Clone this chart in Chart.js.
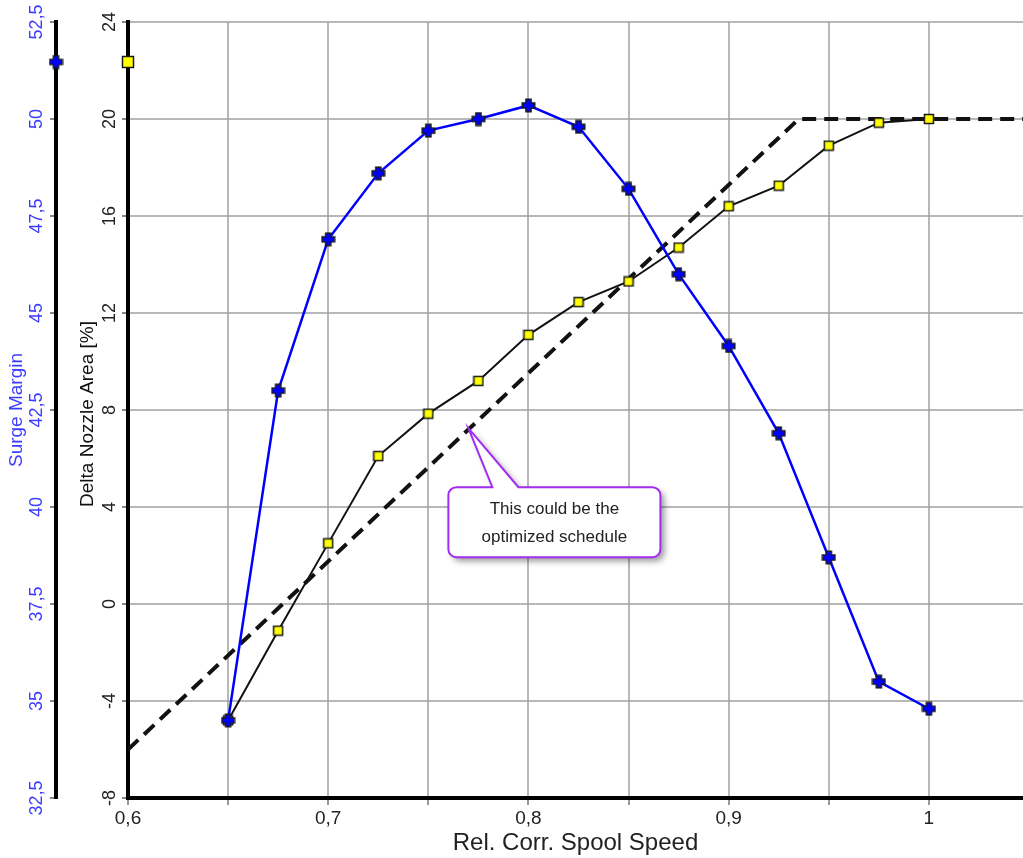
<!DOCTYPE html>
<html>
<head>
<meta charset="UTF-8" />
<title>Surge Margin / Delta Nozzle Area</title>
<script src="https://cdn.jsdelivr.net/npm/chart.js"></script>
<style>
  body { margin: 0; background: #fff; }
  canvas { display: block; }
</style>
</head>
<body>
<canvas id="grafico" width="1023" height="858"></canvas>
<script>
  // data
  const speed = [0.65, 0.675, 0.7, 0.725, 0.75, 0.775, 0.8, 0.825, 0.85, 0.875, 0.9, 0.925, 0.95, 0.975, 1.0];
  const surgeMargin = [34.5, 43.0, 46.9, 48.6, 49.7, 50.0, 50.35, 49.8, 48.2, 46.0, 44.15, 41.9, 38.7, 35.5, 34.8];
  const nozzleArea = [-4.8, -1.1, 2.5, 6.1, 7.85, 9.2, 11.1, 12.45, 13.3, 14.7, 16.4, 17.25, 18.9, 19.85, 20.0];
  const scheduleSpeed = [0.6, 0.935, 1.05];
  const scheduleArea = [-6, 20, 20];

  const xTicks = [0.6, 0.65, 0.7, 0.75, 0.8, 0.85, 0.9, 0.95, 1.0];
  const xTickLabels = ['0,6', '', '0,7', '', '0,8', '', '0,9', '', '1'];
  const areaTicks = [-8, -4, 0, 4, 8, 12, 16, 20, 24];
  const surgeTicks = [32.5, 35, 37.5, 40, 42.5, 45, 47.5, 50, 52.5];

  const calloutAt = { x: 0.77, y: 7.25 };
  const calloutText = ['This could be the', 'optimized schedule'];

  const FONT = '"Liberation Sans", Arial, sans-serif';
  const blueText = 'rgb(60,60,255)';
  const gridColor = 'rgba(160,160,160,0.75)';
  Chart.defaults.font.family = FONT;

  const fmt = v => String(v).replace('.', ',');

  function plusMarker() {
    const c = document.createElement('canvas');
    c.width = 15; c.height = 15;
    const g = c.getContext('2d');
    const a = 2.6, b = 6.3, o = 7.5;
    g.beginPath();
    g.moveTo(o - a, o - b); g.lineTo(o + a, o - b); g.lineTo(o + a, o - a);
    g.lineTo(o + b, o - a); g.lineTo(o + b, o + a); g.lineTo(o + a, o + a);
    g.lineTo(o + a, o + b); g.lineTo(o - a, o + b); g.lineTo(o - a, o + a);
    g.lineTo(o - b, o + a); g.lineTo(o - b, o - a); g.lineTo(o - a, o - a);
    g.closePath();
    g.fillStyle = '#0000ff'; g.fill();
    g.lineWidth = 1.4; g.strokeStyle = '#1a1a1a'; g.stroke();
    return c;
  }

  function squareMarker(size) {
    const c = document.createElement('canvas');
    c.width = size + 3; c.height = size + 3;
    const g = c.getContext('2d');
    g.fillStyle = '#ffff00';
    g.fillRect(1.5, 1.5, size, size);
    g.lineWidth = 1.5; g.strokeStyle = '#1a1a1a';
    g.strokeRect(1.5, 1.5, size, size);
    return c;
  }

  const plus = plusMarker();
  const square = squareMarker(9);
  const bigSquare = squareMarker(11);

  const axisText = {
    id: 'axisText',
    afterDraw(chart) {
      const g = chart.ctx;
      const sx = chart.scales.x, sa = chart.scales.yArea, ss = chart.scales.ySurge;
      g.save();
      g.textAlign = 'center';
      g.textBaseline = 'middle';
      const vert = (txt, x, y, color, size) => {
        g.save();
        g.translate(x, y);
        g.rotate(-Math.PI / 2);
        g.fillStyle = color;
        g.font = size + 'px ' + FONT;
        g.fillText(txt, 0, 0);
        g.restore();
      };
      areaTicks.forEach(v => vert(fmt(v), sa.right - 18, sa.getPixelForValue(v), '#222', 18));
      surgeTicks.forEach(v => vert(fmt(v), ss.right - 19, ss.getPixelForValue(v), blueText, 18));
      vert('Delta Nozzle Area [%]', sa.right - 40, (sa.top + sa.bottom) / 2 + 4, '#111', 19);
      vert('Surge Margin', ss.right - 39, (ss.top + ss.bottom) / 2, blueText, 19);

      g.fillStyle = '#222';
      g.font = '24px ' + FONT;
      g.fillText('Rel. Corr. Spool Speed', (sx.left + sx.right) / 2, sx.bottom - 15);

      // series markers on the axis lines
      const my = sa.top + 40;
      g.drawImage(plus, ss.right - 7.5, my - 7.5);
      g.drawImage(bigSquare, sa.right - 7, my - 7);

      // callout
      const tx = sx.getPixelForValue(calloutAt.x), ty = sa.getPixelForValue(calloutAt.y);
      const bx = tx - 20, by = ty + 59, bw = 212, bh = 70, r = 8;
      g.beginPath();
      g.moveTo(bx + r, by);
      g.lineTo(tx + 24, by);
      g.lineTo(tx, ty);
      g.lineTo(tx + 50, by);
      g.arcTo(bx + bw, by, bx + bw, by + bh, r);
      g.arcTo(bx + bw, by + bh, bx, by + bh, r);
      g.arcTo(bx, by + bh, bx, by, r);
      g.arcTo(bx, by, bx + bw, by, r);
      g.closePath();
      g.save();
      g.shadowColor = 'rgba(0,0,0,0.4)';
      g.shadowBlur = 6;
      g.shadowOffsetX = 4;
      g.shadowOffsetY = 4;
      g.fillStyle = '#fff';
      g.fill();
      g.restore();
      g.lineWidth = 2;
      g.strokeStyle = '#a22cf0';
      g.stroke();
      g.fillStyle = '#222';
      g.font = '17px ' + FONT;
      g.fillText(calloutText[0], bx + bw / 2, by + 22);
      g.fillText(calloutText[1], bx + bw / 2, by + 50);
      g.restore();
    }
  };

  new Chart(document.getElementById('grafico').getContext('2d'), {
    type: 'line',
    data: {
      datasets: [
        {
          label: 'Surge Margin',
          data: speed.map((x, i) => ({ x, y: surgeMargin[i] })),
          yAxisID: 'ySurge',
          borderColor: '#0000ff',
          borderWidth: 2.5,
          pointStyle: plus,
          order: 0
        },
        {
          label: 'Delta Nozzle Area',
          data: speed.map((x, i) => ({ x, y: nozzleArea[i] })),
          yAxisID: 'yArea',
          borderColor: '#111',
          borderWidth: 2,
          pointStyle: square,
          order: 1
        },
        {
          label: 'Schedule',
          data: scheduleSpeed.map((x, i) => ({ x, y: scheduleArea[i] })),
          yAxisID: 'yArea',
          borderColor: '#111',
          borderWidth: 4,
          borderDash: [14, 8],
          pointRadius: 0,
          order: 2
        }
      ]
    },
    options: {
      responsive: false,
      animation: false,
      layout: { autoPadding: false, padding: { top: 22, right: 0, left: 0, bottom: 0 } },
      plugins: { legend: { display: false }, tooltip: { enabled: false } },
      scales: {
        x: {
          type: 'linear',
          min: 0.6,
          max: 1.047,
          afterBuildTicks: s => { s.ticks = xTicks.map(v => ({ value: v })); },
          afterFit: s => { s.height = 60; s.paddingLeft = 0; s.paddingRight = 0; },
          ticks: {
            callback: (v, i) => xTickLabels[i],
            autoSkip: false,
            maxRotation: 0,
            color: '#222',
            padding: 2,
            font: { size: 19 }
          },
          grid: { color: gridColor, lineWidth: 2, tickLength: 7, tickColor: '#999' },
          border: { color: '#000', width: 4 }
        },
        yArea: {
          type: 'linear',
          position: 'left',
          weight: 0,
          min: -8,
          max: 24,
          afterBuildTicks: s => { s.ticks = areaTicks.map(v => ({ value: v })); },
          afterFit: s => { s.width = 72; s.paddingTop = 0; s.paddingBottom = 0; },
          ticks: { display: false },
          grid: { color: gridColor, lineWidth: 2, tickLength: 6, tickColor: '#888' },
          border: { color: '#000', width: 4 }
        },
        ySurge: {
          type: 'linear',
          position: 'left',
          weight: 1,
          min: 32.5,
          max: 52.5,
          afterBuildTicks: s => { s.ticks = surgeTicks.map(v => ({ value: v })); },
          afterFit: s => { s.width = 56; s.paddingTop = 0; s.paddingBottom = 0; },
          ticks: { display: false },
          grid: { drawOnChartArea: false, lineWidth: 2, tickLength: 6, tickColor: '#888' },
          border: { color: '#000', width: 4 }
        }
      }
    },
    plugins: [axisText]
  });
</script>
</body>
</html>
